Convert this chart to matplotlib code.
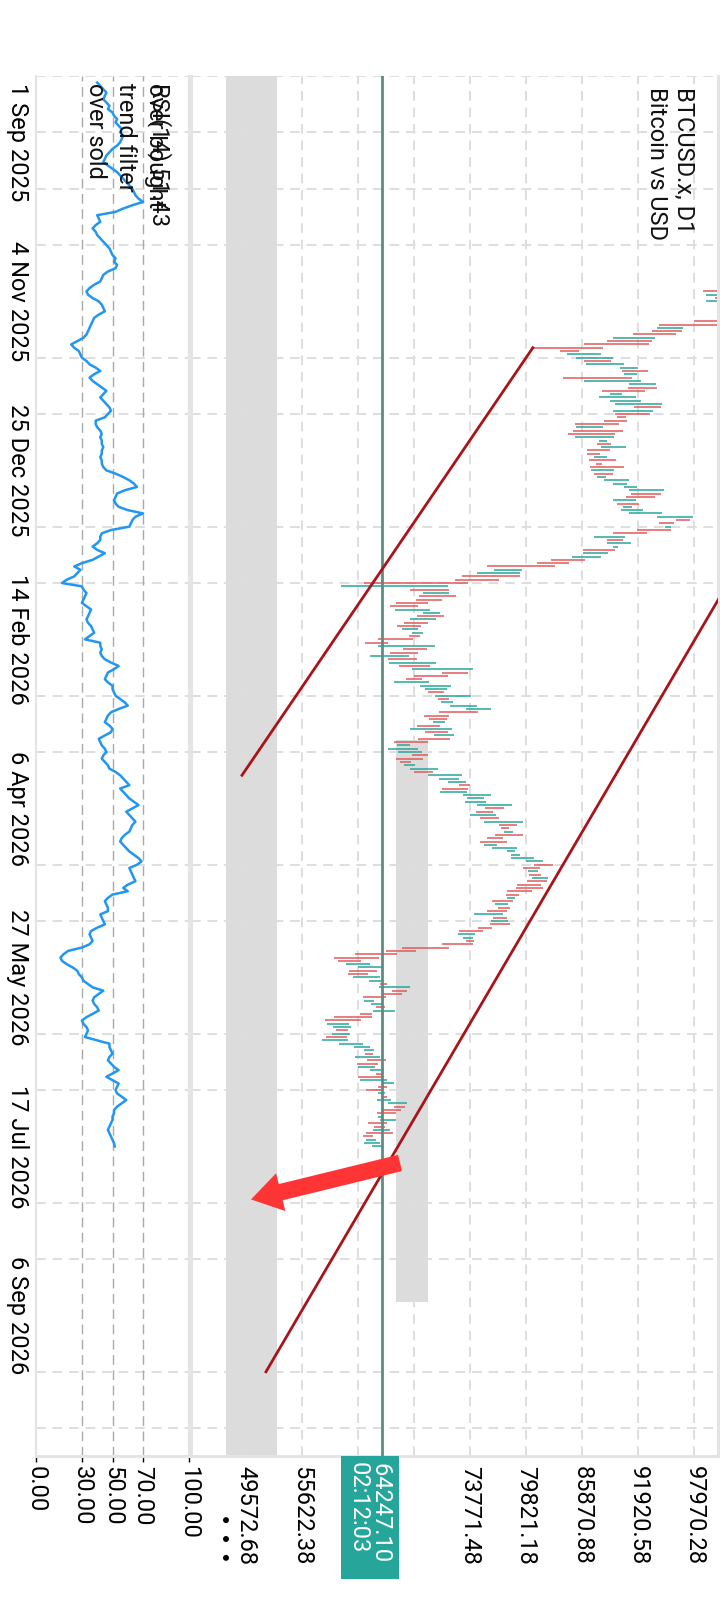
import matplotlib
matplotlib.use("Agg")
import matplotlib.pyplot as plt
import matplotlib.dates as mdates
import matplotlib.transforms as mtransforms
from matplotlib.patches import Rectangle
import pandas as pd

plt.rcParams["font.family"] = ["Roboto", "DejaVu Sans"]

# ---- data ----
# RSI(14), one value per day starting 30 Aug 2025
rsi_start = "2025-08-30"
rsi = [
    40, 42, 44, 46, 45, 44, 46, 48, 47, 50, 51, 53, 52, 54, 56, 55, 57,
    56, 55, 53, 50, 48, 46, 45, 44, 47, 50, 53, 55, 57, 59, 61, 63, 64,
    65, 67, 70, 63, 57, 52, 40, 41, 42, 39, 37, 39, 40, 42, 44, 46, 48,
    49, 50, 52, 51, 53, 52, 47, 44, 43, 42, 38, 35, 33, 34, 37, 41, 43,
    44, 45, 41, 38, 37, 36, 35, 34, 33, 31, 27, 23, 25, 28, 29, 30, 33,
    35, 39, 42, 38, 35, 37, 40, 43, 46, 44, 42, 44, 46, 48, 49, 47, 45,
    39, 39, 40, 42, 43, 42, 43, 43, 44, 43, 43, 42, 43, 43, 44, 46, 52,
    57, 61, 64, 66, 58, 53, 52, 51, 52, 54, 60, 70, 65, 63, 62, 61, 49,
    43, 42, 42, 40, 37, 40, 45, 41, 37, 30, 25, 29, 27, 25, 20, 17, 30,
    31, 33, 32, 31, 30, 33, 36, 35, 34, 33, 34, 36, 37, 38, 35, 32, 42,
    42, 43, 42, 43, 45, 49, 54, 51, 47, 46, 45, 47, 50, 50, 51, 52, 55,
    58, 60, 54, 49, 47, 46, 45, 48, 50, 49, 45, 41, 42, 43, 45, 46, 44,
    43, 45, 47, 48, 52, 55, 57, 59, 61, 55, 57, 59, 61, 64, 67, 63, 59,
    61, 63, 65, 63, 62, 61, 58, 56, 55, 57, 59, 61, 64, 67, 69, 66, 61,
    62, 63, 64, 65, 60, 57, 60, 50, 47, 45, 46, 47, 47, 42, 43, 44, 45,
    40, 36, 35, 36, 37, 35, 30, 21, 18, 16, 17, 20, 24, 27, 28, 30, 31,
    34, 37, 44, 41, 38, 37, 38, 40, 41, 37, 33, 30, 31, 33, 34, 33, 32,
    40, 48, 48, 49, 50, 48, 47, 49, 51, 54, 50, 46, 50, 54, 53, 52, 53,
    56, 59, 56, 53, 51, 51, 50, 50, 49, 48, 47, 48, 49, 50, 51, 51.43,
]

# daily bars (low / high in thousand USD), starting 1 Nov 2025
bar_start = "2025-11-01"
bar_low = [
    98.9, 99.3, 100.2, 99.3, 101.0, 101.5, 100.9, 101.2, 100.7,
    98.0, 94.2, 94.0, 93.4, 91.4, 89.2, 88.6, 86.1, 80.6, 83.5,
    84.3, 85.2, 86.1, 86.3, 90.0, 90.2, 90.4, 83.8, 86.1, 90.9,
    90.8, 88.0, 88.9, 87.7, 88.9, 89.4, 91.5, 89.2, 89.4, 89.7,
    88.2, 85.1, 85.2, 84.9, 84.4, 85.1, 87.7, 87.5, 87.9, 86.4,
    86.4, 87.2, 86.6, 87.4, 86.7, 86.8, 87.2, 87.5, 88.2, 89.2,
    90.4, 90.9, 91.2, 90.6, 89.2, 89.7, 90.3, 90.1, 90.9, 94.0,
    96.0, 94.2, 94.8, 91.8, 89.2, 87.2, 88.6, 88.6, 89.2, 86.0,
    86.0, 84.8, 82.5,
    81.0, 75.6, 76.4, 74.5, 72.9, 72.2, 62.3, 59.8, 67.3, 68.7,
    68.3, 67.9, 65.8, 65.1, 65.7, 68.7, 68.0, 67.3, 66.6, 65.9,
    66.4, 67.5, 67.2, 63.8, 62.4, 63.8, 66.5, 65.1, 63.0, 64.9,
    65.0, 66.1, 67.5, 70.7, 67.7, 66.9, 65.6, 68.4, 68.9, 69.2,
    70.0, 70.3, 70.6, 71.6, 73.3, 70.4, 68.8, 69.3, 69.8, 68.0,
    67.3, 68.9, 69.9, 68.2, 65.6, 65.9, 64.9, 66.0, 67.5, 65.8,
    66.2, 66.6, 67.3, 67.7, 69.2, 70.4, 71.4, 72.6, 70.7, 70.5,
    73.0, 73.4, 73.2, 74.5, 75.4, 74.4, 73.8, 74.9,
    75.3, 76.9, 77.1, 77.4, 76.5, 75.6, 74.9, 75.3, 76.2, 77.8,
    78.2, 78.2, 79.8, 80.7, 79.5, 80.0, 80.1, 80.5, 79.9, 78.9,
    78.7, 77.8, 77.7, 77.8, 76.2, 76.5, 76.8, 75.6, 74.2, 76.3,
    76.0, 75.9, 74.6, 72.6, 72.5, 73.0, 73.3, 70.7, 66.4, 64.7,
    61.4, 59.1, 59.5, 60.4, 61.7, 60.7, 60.6, 61.1, 62.9, 64.1,
    63.9, 65.3, 64.3, 62.2, 62.3, 63.1, 63.6, 63.3, 61.9, 59.1,
    58.1, 58.3, 59.0, 59.3, 58.9, 58.2, 57.8, 59.6, 61.2, 62.3,
    62.4, 61.4, 62.6, 61.6, 61.7, 63.0, 63.6, 61.7, 61.9, 64.4,
    63.8, 62.5, 63.8, 64.3, 63.7, 64.9, 65.6, 64.4, 63.7, 63.8,
    64.1, 62.8, 63.4, 63.3, 62.5, 62.2, 62.5, 62.3, 63.2,
]
bar_high = [
    101.2, 101.0, 101.0, 100.8, 102.6, 103.4, 102.8, 103.0, 102.5,
    101.0, 100.8, 96.8, 96.7, 96.0, 93.8, 93.4, 93.1, 88.1, 85.5,
    87.9, 89.2, 89.0, 90.4, 91.9, 93.0, 91.8, 91.3, 92.2, 93.9,
    94.0, 92.7, 90.2, 91.7, 92.2, 94.5, 94.4, 93.5, 93.2, 90.6,
    90.7, 89.9, 88.1, 90.3, 89.4, 89.3, 88.6, 89.0, 90.6, 88.9,
    87.8, 88.6, 89.5, 88.0, 90.4, 89.3, 89.2, 88.5, 90.9, 90.7,
    91.8, 94.7, 94.4, 93.8, 91.7, 92.0, 91.3, 92.5, 94.5, 97.9,
    97.5, 95.8, 95.5, 95.5, 92.9, 90.5, 90.3, 91.2, 89.8, 89.4,
    88.7, 87.9, 86.2,
    84.5, 83.0, 79.4, 79.2, 79.2, 76.9, 73.6, 71.4, 71.5, 71.5,
    72.3, 70.7, 69.2, 68.2, 69.5, 70.5, 71.0, 70.1, 69.2, 68.5,
    68.2, 68.7, 68.4, 67.6, 64.9, 70.0, 69.1, 68.2, 67.2, 68.0,
    70.1, 69.5, 74.1, 73.6, 71.4, 68.6, 69.3, 71.7, 71.3, 71.0,
    73.9, 71.5, 71.9, 74.5, 76.0, 74.6, 71.5, 71.3, 71.1, 70.5,
    71.8, 71.4, 72.0, 71.6, 69.2, 67.3, 68.2, 68.6, 69.2, 68.7,
    67.4, 67.8, 70.3, 69.8, 72.9, 72.6, 73.3, 73.8, 73.6, 73.4,
    76.0, 75.3, 75.5, 78.3, 77.4, 76.3, 76.6, 76.9,
    79.5, 78.9, 78.0, 78.4, 79.5, 77.3, 77.8, 76.7, 78.9, 78.6,
    79.2, 80.7, 81.7, 82.7, 81.3, 81.1, 81.4, 82.2, 82.1, 81.4,
    81.7, 80.5, 79.1, 78.6, 78.4, 77.9, 78.1, 77.8, 77.3, 77.8,
    77.9, 78.1, 76.2, 75.2, 74.3, 74.1, 74.2, 74.1, 71.5, 67.9,
    65.9, 63.9, 62.0, 63.0, 64.3, 63.7, 62.8, 64.1, 64.2, 64.8,
    67.3, 67.0, 66.4, 64.7, 63.4, 64.3, 64.6, 65.7, 63.2, 63.2,
    62.0, 60.7, 60.9, 60.6, 60.8, 60.5, 60.6, 62.2, 63.0, 63.4,
    63.3, 64.1, 64.7, 63.8, 63.5, 64.4, 64.4, 64.4, 64.8, 65.6,
    64.8, 64.4, 64.6, 64.8, 65.2, 67.0, 66.8, 66.3, 65.8, 64.4,
    65.8, 64.8, 64.6, 65.1, 65.5, 63.3, 63.6, 64.1, 64.3,
]
bar_dir = (
    "duduuddud"
    "dduddudddd" "uuduududuu" "dduuuududd" "ddudduudud"
    "duddduduuu" "uudduduuuu" "ddudduduud" "uud"
    "dduudddudu" "dddduududd" "uuddduddud" "ududdduuud"
    "uduuudddud" "ududduuudd" "duuduuuddu" "uuuuddud"
    "udduddduuu" "uuuddududd" "dddududdud" "uddduudddd"
    "ddduudduud" "uddduududd" "duududuuuu" "dudduudduu"
    "dduduudddu" "uddudduuu"
)

price_ticks = [49572.68, 55622.38, 61672.08, 67721.78, 73771.48,
               79821.18, 85870.88, 91920.58, 97970.28]
rsi_ticks = [0, 30, 50, 70, 100]
rsi_levels = [30, 50, 70]
date_ticks = ["2025-09-01", "2025-11-04", "2025-12-25", "2026-02-14",
              "2026-04-06", "2026-05-27", "2026-07-17", "2026-09-06"]
date_labels = ["1 Sep 2025", "4 Nov 2025", "25 Dec 2025", "14 Feb 2026",
               "6 Apr 2026", "27 May 2026", "17 Jul 2026", "6 Sep 2026"]

last_price = 64247.10
last_time = "02:12:03"

trend1_dates = ["2025-11-18", "2026-03-27"]
trend1_prices = [80560, 49140]
trend2_dates = ["2026-01-22", "2026-09-23"]
trend2_prices = [102900, 51730]

zone_wide = [47412, 52921]
zone_narrow_prices = [65777, 69234]
zone_narrow_dates = ["2026-03-16 12:00", "2026-09-01 21:00"]

arrow_from = ("2026-07-22", 66210)
arrow_to = ("2026-08-02", 50114)

view_dates = ["2025-08-30", "2026-10-18 10:00"]
view_prices = [43631, 100563]


def dnum(s):
    return mdates.date2num(pd.Timestamp(s).to_pydatetime())


rsi_y = mdates.date2num(pd.date_range(rsi_start, periods=len(rsi)).to_pydatetime())
bar_y = mdates.date2num(pd.date_range(bar_start, periods=len(bar_low)).to_pydatetime())
grid_y = mdates.date2num(pd.date_range("2025-08-28", "2026-10-20", freq="17D").to_pydatetime())

RED = "#e05a5a"
TEAL = "#26a69a"
SPINE = "#e4e4e4"
FS = 17

fig = plt.figure(figsize=(7.2, 16), dpi=100)
ax_rsi = fig.add_axes([36 / 720, 1 - 1456 / 1600, 153 / 720, 1380 / 1600])
ax = fig.add_axes([191 / 720, 1 - 1456 / 1600, 527 / 720, 1380 / 1600], sharey=ax_rsi)

for a in (ax_rsi, ax):
    a.set_axisbelow(True)
    a.spines["top"].set_visible(False)
    for s in ("left", "right", "bottom"):
        a.spines[s].set_color(SPINE)
ax_rsi.spines["left"].set_linewidth(1.5)
ax_rsi.spines["right"].set_linewidth(1.5)
ax_rsi.spines["bottom"].set_linewidth(2.2)
ax.spines["left"].set_linewidth(2.2)
ax.spines["right"].set_linewidth(2.2)
ax.spines["bottom"].set_linewidth(2.2)

ax_rsi.set_ylim(dnum(view_dates[1]), dnum(view_dates[0]))
ax_rsi.set_xlim(0, 100)
ax.set_xlim(*view_prices)

# time axis
ax_rsi.set_yticks([dnum(d) for d in date_ticks])
ax_rsi.set_yticklabels(date_labels)
ax_rsi.set_yticks(grid_y, minor=True)
ax_rsi.tick_params(axis="y", which="both", length=0, pad=5, labelsize=FS, labelrotation=-90)
for i, lbl in enumerate(ax_rsi.get_yticklabels()):
    lbl.set_va("center")
    if i == 0:
        lbl.set_va("top")
        lbl.set_transform(lbl.get_transform()
                          + mtransforms.ScaledTranslation(0, 0.06, fig.dpi_scale_trans))
ax.tick_params(axis="y", which="both", left=False, labelleft=False)

# value axes
ax_rsi.set_xticks(rsi_ticks)
ax_rsi.set_xticklabels([f"{v:.2f}" for v in rsi_ticks])
ax_rsi.tick_params(axis="x", length=4, width=1, color="black", pad=3,
                   labelsize=FS, labelrotation=-90)
ax.set_xticks(price_ticks)
ax.set_xticklabels(["" if abs(p - last_price) < 4000 else f"{p:.2f}" for p in price_ticks])
ax.tick_params(axis="x", length=0, pad=7, labelsize=FS, labelrotation=-90)

grid_style = dict(color="#dedede", linewidth=1.4, linestyle=(0, (5, 3.5)))
ax_rsi.grid(True, axis="y", which="minor", **grid_style)
ax.grid(True, axis="y", which="minor", **grid_style)
ax.grid(True, axis="x", which="major", **grid_style)

# RSI pane
for lvl in rsi_levels:
    ax_rsi.axvline(lvl, color="#a9a9a9", lw=1.0, ls=(0, (7, 4)), zorder=1)
ax_rsi.plot(rsi, rsi_y, color="#2196f3", lw=1.8, zorder=3)

legend_lines = [(153, f"RSI(14) {rsi[-1]:.2f}"), (149, "over bought"),
                (119, "trend filter"), (89, "over sold")]
for px, txt in legend_lines:
    ax_rsi.text((px - 36) / 153, 1 - 7 / 1380, txt, transform=ax_rsi.transAxes,
                rotation=-90, rotation_mode="anchor", ha="left", va="baseline",
                fontsize=FS, color="#111111", zorder=4)

# price pane
ax.axvspan(zone_wide[0], zone_wide[1], color="#dcdcdc", lw=0, zorder=0.3)
zn0, zn1 = dnum(zone_narrow_dates[0]), dnum(zone_narrow_dates[1])
ax.add_patch(Rectangle((zone_narrow_prices[0], zn0),
                       zone_narrow_prices[1] - zone_narrow_prices[0], zn1 - zn0,
                       facecolor="#dcdcdc", edgecolor="none", zorder=0.3))

colors = [TEAL if d == "u" else RED for d in bar_dir]
ax.hlines(bar_y, [v * 1000 for v in bar_low], [v * 1000 for v in bar_high],
          colors=colors, lw=1.1, zorder=2)

ax.axvline(last_price, color="#5e8c85", lw=2.0, zorder=3)

ax.plot(trend1_prices, [dnum(d) for d in trend1_dates], color="#a8141a", lw=2.0, zorder=4)
ax.plot(trend2_prices, [dnum(d) for d in trend2_dates], color="#a8141a", lw=2.0, zorder=4)

ax.annotate("", xy=(arrow_to[1], dnum(arrow_to[0])),
            xytext=(arrow_from[1], dnum(arrow_from[0])),
            arrowprops=dict(arrowstyle="simple,head_length=1.1,head_width=1.4,tail_width=0.6",
                            fc="#ff3535", ec="none", mutation_scale=20,
                            shrinkA=0, shrinkB=0),
            zorder=6)

ax.text((677 - 191) / 527, 1 - 11 / 1380, "BTCUSD.x, D1", transform=ax.transAxes,
        rotation=-90, rotation_mode="anchor", ha="left", va="baseline",
        fontsize=FS, color="#111111")
ax.text((650 - 191) / 527, 1 - 11 / 1380, "Bitcoin vs USD", transform=ax.transAxes,
        rotation=-90, rotation_mode="anchor", ha="left", va="baseline",
        fontsize=FS, color="#111111")

# last price label
lbl_trans = (mtransforms.blended_transform_factory(ax.transData, ax.transAxes)
             + mtransforms.ScaledTranslation(0.11, 0, fig.dpi_scale_trans))
ax.text(last_price, -0.0045, f"{last_price:.2f}  \n{last_time}", transform=lbl_trans,
        rotation=-90, ha="right", va="top", multialignment="left", linespacing=1.0,
        fontsize=FS, color="white", clip_on=False, zorder=7,
        bbox=dict(boxstyle="square,pad=0.25", fc=TEAL, ec="none"))

fig.text(223 / 720, 1 - 1538 / 1600, "\u2022 \u2022 \u2022", rotation=-90,
         ha="center", va="center", fontsize=15, color="black", family="DejaVu Sans")

fig.savefig("out.png", dpi=100)
